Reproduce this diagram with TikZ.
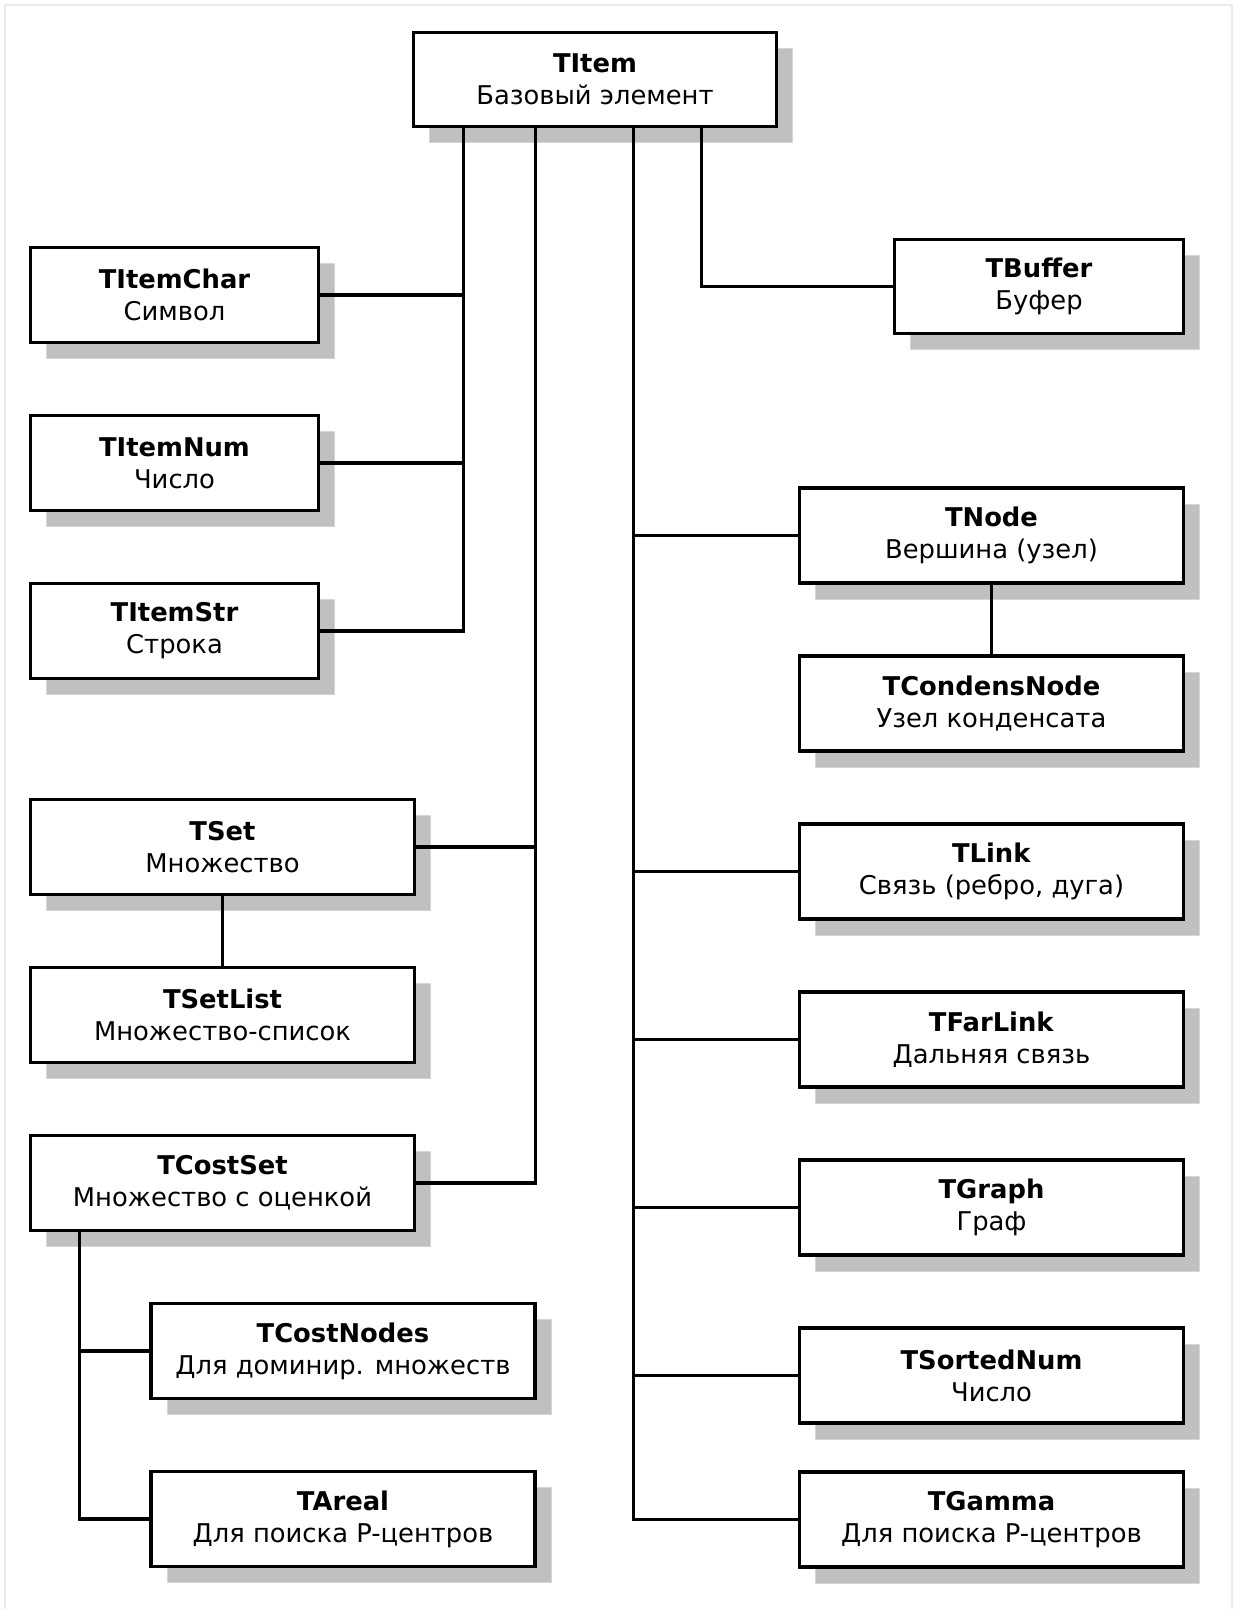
\documentclass[tikz,border=0pt]{standalone}
\usepackage{fontspec}
\setmainfont{DejaVu Sans}
\usepackage{tikz}
\usetikzlibrary{positioning, calc, shadows}

\definecolor{shadowgray}{RGB}{192,192,192}
\definecolor{shadowedge}{RGB}{214,214,214}
\definecolor{framegray}{RGB}{235,235,235}

\begin{document}
\begin{tikzpicture}[
        x=1pt, y=-1pt,
        node distance=73pt,
        font=\fontsize{25.8}{32}\selectfont,
        classbox/.style={
            rectangle,
            draw,
            line width=3.5pt,
            fill=white,
            outer sep=0pt,
            inner sep=2pt,
            minimum width=288pt,
            minimum height=95pt,
            align=center,
            drop shadow={shadow xshift=16pt, shadow yshift=-16pt,
                fill=shadowgray, draw=shadowedge, line width=1pt, opacity=1}
        },
        widebox/.style={
            classbox,
            minimum width=384pt
        },
        link/.style={
            line width=3.2pt
        }
    ]
    \useasboundingbox (0,0) rectangle (1236,1609);
    % рамка
    \draw[framegray, line width=2pt] (5,1609) -- (5,5) -- (1232,5) -- (1232,1609);

    % корень
    \node[classbox, minimum width=363pt, minimum height=94pt] (TItem) at (595,79.5) {\textbf{TItem}\\Базовый элемент};

    % левая колонка
    \node[classbox] (TItemChar) at (174.5,295) {\textbf{TItemChar}\\Символ};
    \node[classbox, below=of TItemChar] (TItemNum) {\textbf{TItemNum}\\Число};
    \node[classbox, below=of TItemNum] (TItemStr) {\textbf{TItemStr}\\Строка};

    \node[widebox] (TSet) at (222.5,847) {\textbf{TSet}\\Множество};
    \node[widebox, below=of TSet] (TSetList) {\textbf{TSetList}\\Множество-список};
    \node[widebox, below=of TSetList] (TCostSet) {\textbf{TCostSet}\\Множество с оценкой};

    \node[widebox] (TCostNodes) at (343,1351) {\textbf{TCostNodes}\\Для доминир. множеств};
    \node[widebox, below=of TCostNodes] (TAreal) {\textbf{TAreal}\\Для поиска P-центров};

    % правая колонка
    \node[classbox, minimum width=289pt, minimum height=94pt] (TBuffer) at (1039,286.5) {\textbf{TBuffer}\\Буфер};

    \node[widebox] (TNode) at (991.5,535.5) {\textbf{TNode}\\Вершина (узел)};
    \node[widebox, below=of TNode] (TCondensNode) {\textbf{TCondensNode}\\Узел конденсата};
    \node[widebox, below=of TCondensNode] (TLink) {\textbf{TLink}\\Связь (ребро, дуга)};
    \node[widebox, below=of TLink] (TFarLink) {\textbf{TFarLink}\\Дальняя связь};
    \node[widebox, below=of TFarLink] (TGraph) {\textbf{TGraph}\\Граф};
    \node[widebox, below=of TGraph] (TSortedNum) {\textbf{TSortedNum}\\Число};
    \node[widebox, below=49pt of TSortedNum] (TGamma) {\textbf{TGamma}\\Для поиска P-центров};

    % шины
    \coordinate (b1) at ($(TItem.south west)+(50,0)$);
    \coordinate (b2) at ($(TItem.south west)+(122,0)$);
    \coordinate (b3) at ($(TItem.south west)+(220,0)$);
    \coordinate (b4) at ($(TItem.south west)+(288,0)$);
    \coordinate (c1) at ($(TCostSet.south west)+(49,0)$);

    \draw[link] (b1) |- (TItemStr.east);
    \draw[link] (TItemChar.east) -- (TItemChar.east -| b1);
    \draw[link] (TItemNum.east) -- (TItemNum.east -| b1);

    \draw[link] (b2) |- (TCostSet.east);
    \draw[link] (TSet.east) -- (TSet.east -| b2);
    \draw[link] (TSet) -- (TSetList);

    \draw[link] (c1) |- (TAreal.west);
    \draw[link] (TCostNodes.west) -- (TCostNodes.west -| c1);

    \draw[link] (b4) |- (TBuffer.west);

    \draw[link] (b3) |- (TGamma.west);
    \foreach \n in {TNode, TLink, TFarLink, TGraph, TSortedNum}
        \draw[link] (\n.west) -- (\n.west -| b3);
    \draw[link] (TNode) -- (TCondensNode);

\end{tikzpicture}
\end{document}
